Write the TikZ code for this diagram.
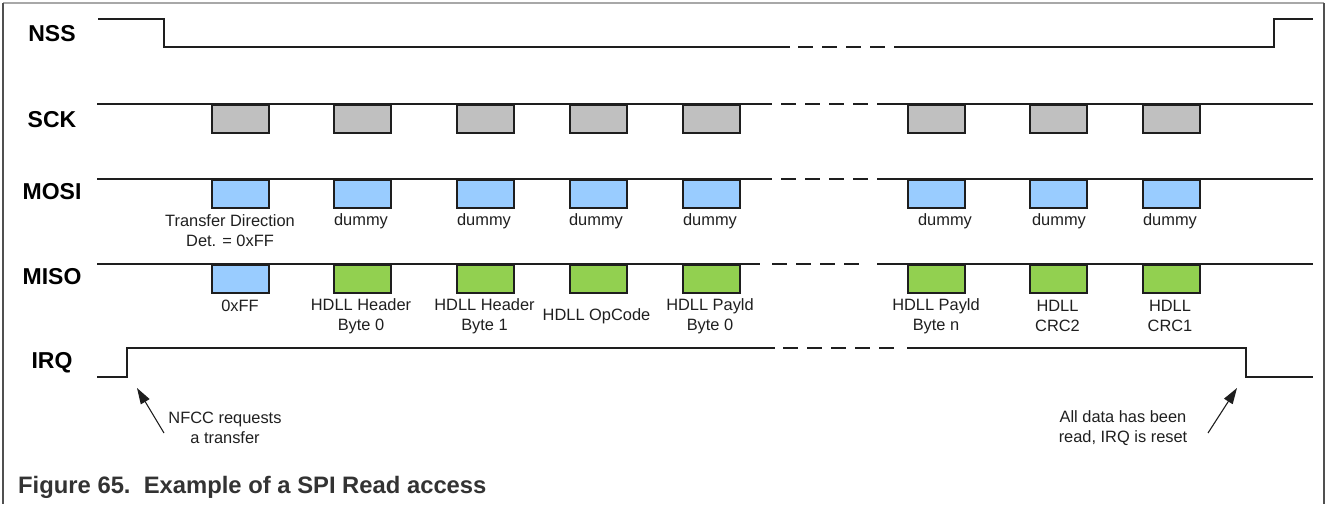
\documentclass[tikz,border=0pt]{standalone}
\usepackage{fontspec}
\setmainfont{Liberation Sans}
\usetikzlibrary{arrows.meta}
\definecolor{sckgray}{HTML}{C0C0C0}
\definecolor{mosiblue}{HTML}{99CCFF}
\definecolor{misogreen}{HTML}{92D050}
\definecolor{sigline}{HTML}{1E1E1E}
\definecolor{captiongray}{HTML}{333333}
\definecolor{frametop}{HTML}{A8A8A8}
\definecolor{frameside}{HTML}{505050}
\begin{document}
\begin{tikzpicture}[x=1pt,y=-1pt,
  sig/.style={draw=sigline, line width=1.8pt},
  gapdash/.style={sig, dash pattern=on 15pt off 9pt},
  slot/.style={draw=sigline, line width=1.6pt, minimum width=57pt, minimum height=28pt, inner sep=0pt, anchor=north west},
  clk/.style={slot, fill=sckgray},
  mosibox/.style={slot, fill=mosiblue},
  misobox/.style={slot, fill=misogreen},
  signame/.style={font=\fontsize{23}{26}\selectfont\bfseries, text=black, inner sep=0pt},
  lbl/.style={font=\fontsize{16.4}{20}\selectfont, align=center, text=black!88, inner sep=0pt},
  note/.style={draw=sigline, line width=1.1pt, -{Triangle[length=16pt,width=10pt]}},
]
\useasboundingbox (0,0) rectangle (1326,504);
% frame
\draw[frametop, line width=1.5pt] (3,3) -- (1324,3);
\draw[frameside, line width=1.2pt] (3,3) -- (3,504);
\draw[frameside, line width=1.2pt] (1324,3) -- (1324,504);

% signal names
\node[signame] (nss)  at (52,34)  {NSS};
\node[signame] (sck)  at (52,120) {SCK};
\node[signame] (mosi) at (52,192) {MOSI};
\node[signame] (miso) at (52,277) {MISO};
\node[signame] (irq)  at (52,363) {IRQ};

% NSS
\draw[sig] (98,19) -- (164,19) -- (164,47) -- (790,47);
\draw[gapdash] (798,47) -- (907,47);
\draw[sig] (907,47) -- (1274,47) -- (1274,19) -- (1313,19);

% SCK
\draw[sig] (97,104) -- (772,104);
\draw[gapdash] (781,104) -- (888,104);
\draw[sig] (888,104) -- (1313,104);

% MOSI
\draw[sig] (97,179) -- (772,179);
\draw[gapdash] (781,179) -- (888,179);
\draw[sig] (888,179) -- (1313,179);

% MISO
\draw[sig] (97,264) -- (760,264);
\draw[gapdash] (772,264) -- (866,264);
\draw[sig] (877,264) -- (1313,264);

% IRQ
\draw[sig] (97,377) -- (127,377) -- (127,348) -- (775,348);
\draw[gapdash] (783,348) -- (900,348);
\draw[sig] (907,348) -- (1246,348) -- (1246,377) -- (1313,377);

% boxes
\foreach \i/\x in {1/211,2/333,3/456,4/569,5/682,6/907,7/1029,8/1142}{
  \node[clk] (sckb\i) at (\x,104) {};
  \node[mosibox] (mosib\i) at (\x,179) {};
}
\node[mosibox] (misob1) at (211,264) {};
\foreach \i/\x in {2/333,3/456,4/569,5/682,6/907,7/1029,8/1142}{
  \node[misobox] (misob\i) at (\x,264) {};
}

% MOSI labels
\node[lbl] (mosil1) at (230,231) {Transfer Direction\\Det. = 0xFF};
\node[lbl] (mosil2) at (361,221) {dummy};
\node[lbl] (mosil3) at (484,221) {dummy};
\node[lbl] (mosil4) at (596,221) {dummy};
\node[lbl] (mosil5) at (710,221) {dummy};
\node[lbl] (mosil6) at (945,221) {dummy};
\node[lbl] (mosil7) at (1059,221) {dummy};
\node[lbl] (mosil8) at (1170,221) {dummy};

% MISO labels
\node[lbl] (misol1) at (240,306) {0xFF};
\node[lbl] (misol2) at (361,316) {HDLL Header\\Byte 0};
\node[lbl] (misol3) at (484.5,316) {HDLL Header\\Byte 1};
\node[lbl] (misol4) at (596.5,316) {HDLL OpCode};
\node[lbl] (misol5) at (710,316) {HDLL Payld\\Byte 0};
\node[lbl] (misol6) at (936,316) {HDLL Payld\\Byte n};
\node[lbl] (misol7) at (1057.5,316) {HDLL\\CRC2};
\node[lbl] (misol8) at (1170,316) {HDLL\\CRC1};

% annotations
\node[lbl] (nfcc) at (225,428) {NFCC requests\\a transfer};
\node[lbl] (alldata) at (1123,428) {All data has been\\read, IRQ is reset};
\coordinate (nfcctail) at (164,433);
\coordinate (nfcctip) at (137,388);
\coordinate (alltail) at (1208,433);
\coordinate (alltip) at (1237,388);
\draw[note] (nfcctail) -- (nfcctip);
\draw[note] (alltail) -- (alltip);

% caption
\node[anchor=west, inner sep=0pt, font=\fontsize{23.8}{27}\selectfont\bfseries, text=captiongray] (caption) at (18,487) {Figure 65.\ \ Example of a SPI Read access};
\end{tikzpicture}
\end{document}
